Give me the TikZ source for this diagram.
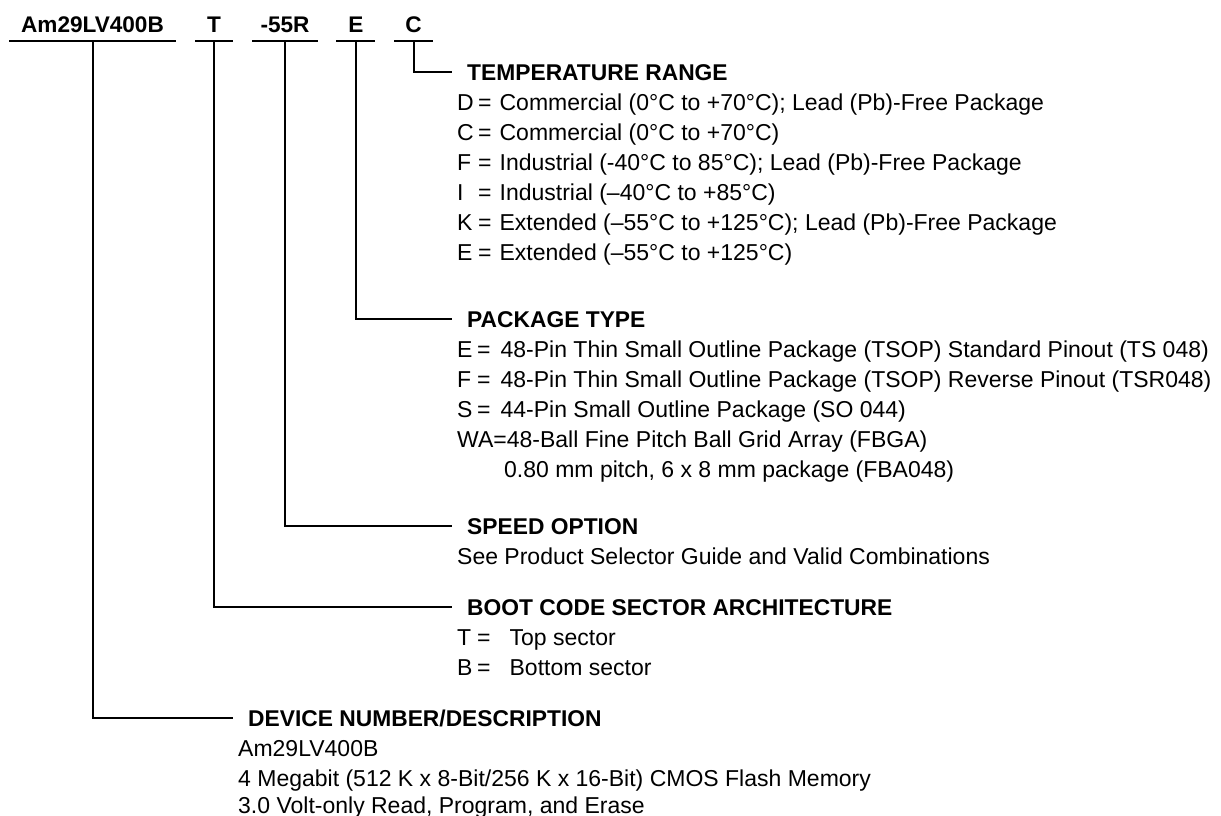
\documentclass[tikz,border=0pt]{standalone}
\usepackage{fontspec}
\setmainfont{Liberation Sans}
\newcommand{\optlbl}[3]{\makebox[#1][l]{#2}=\hspace{#3}}
\begin{document}
\begin{tikzpicture}[x=1pt,y=-1pt,
  ln/.style={line width=2pt},
  ttl/.style={inner sep=0pt,anchor=base,font=\fontsize{22.6}{27}\selectfont\bfseries},
  hdr/.style={inner sep=0pt,anchor=west,text height=16.3pt,text depth=0pt,font=\fontsize{22.8}{27}\selectfont\bfseries},
  itm/.style={inner sep=0pt,anchor=west,text height=16.3pt,text depth=0pt,font=\fontsize{23}{27}\selectfont},
]
\useasboundingbox (0,0) rectangle (1221,816);
\coordinate (ulY) at (0,41);
% title row
\node[ttl] (tAm) at (92.5,33) {Am29LV400B};
\node[ttl] (tT) at (214,33) {T};
\node[ttl] (tS) at (285,33) {-55R};
\node[ttl] (tE) at (356,33) {E};
\node[ttl] (tC) at (413.5,33) {C};
\draw[ln] (9,41) -- (176,41);
\draw[ln] (195,41) -- (233,41);
\draw[ln] (252,41) -- (318,41);
\draw[ln] (336,41) -- (375,41);
\draw[ln] (394,41) -- (433,41);
% temperature range
\node[hdr] (hTemp) at (467,72) {TEMPERATURE RANGE};
\node[itm] (c1) at (457,102) {\optlbl{21pt}{D}{8pt}Commercial (0°C to +70°C); Lead (Pb)-Free Package};
\node[itm] (c2) at (457,132) {\optlbl{21pt}{C}{8pt}Commercial (0°C to +70°C)};
\node[itm] (c3) at (457,162) {\optlbl{21pt}{F}{8pt}Industrial (-40°C to 85°C); Lead (Pb)-Free Package};
\node[itm] (c4) at (457,192) {\optlbl{21pt}{I}{8pt}Industrial (–40°C to +85°C)};
\node[itm] (c5) at (457,222) {\optlbl{21pt}{K}{8pt}Extended (–55°C to +125°C); Lead (Pb)-Free Package};
\node[itm] (c6) at (457,252) {\optlbl{21pt}{E}{8pt}Extended (–55°C to +125°C)};
% package type
\node[hdr] (hPkg) at (467,319) {PACKAGE TYPE};
\node[itm] (p1) at (457,349) {\optlbl{20pt}{E}{10pt}48-Pin Thin Small Outline Package (TSOP) Standard Pinout (TS 048)};
\node[itm] (p2) at (457,379) {\optlbl{20pt}{F}{10pt}48-Pin Thin Small Outline Package (TSOP) Reverse Pinout (TSR048)};
\node[itm] (p3) at (457,409) {\optlbl{20pt}{S}{10pt}44-Pin Small Outline Package (SO 044)};
\node[itm] (p4) at (457,439) {WA=48-Ball Fine Pitch Ball Grid Array (FBGA)};
\node[itm] (p5) at (504,469) {0.80 mm pitch, 6 x 8 mm package (FBA048)};
% speed option
\node[hdr] (hSpd) at (467,526) {SPEED OPTION};
\node[itm] (s1) at (457,556) {See Product Selector Guide and Valid Combinations};
% boot code
\node[hdr] (hBoot) at (467,607) {BOOT CODE SECTOR ARCHITECTURE};
\node[itm] (b1) at (457,637) {\optlbl{20pt}{T}{19pt}Top sector};
\node[itm] (b2) at (457,667) {\optlbl{20pt}{B}{19pt}Bottom sector};
% device number
\node[hdr] (hDev) at (248,718) {DEVICE NUMBER/DESCRIPTION};
\node[itm] (d1) at (238,748) {Am29LV400B};
\node[itm] (d2) at (238,778) {4 Megabit (512 K x 8-Bit/256 K x 16-Bit) CMOS Flash Memory};
\node[itm] (d3) at (238,805) {3.0 Volt-only Read, Program, and Erase};
% connectors
\draw[ln] (tC.base |- ulY) |- ([xshift=-15pt]hTemp.west);
\draw[ln] (tE.base |- ulY) |- ([xshift=-15pt]hPkg.west);
\draw[ln] (tS.base |- ulY) |- ([xshift=-15pt]hSpd.west);
\draw[ln] (tT.base |- ulY) |- ([xshift=-15pt]hBoot.west);
\draw[ln] (tAm.base |- ulY) |- ([xshift=-15pt]hDev.west);
\end{tikzpicture}
\end{document}
